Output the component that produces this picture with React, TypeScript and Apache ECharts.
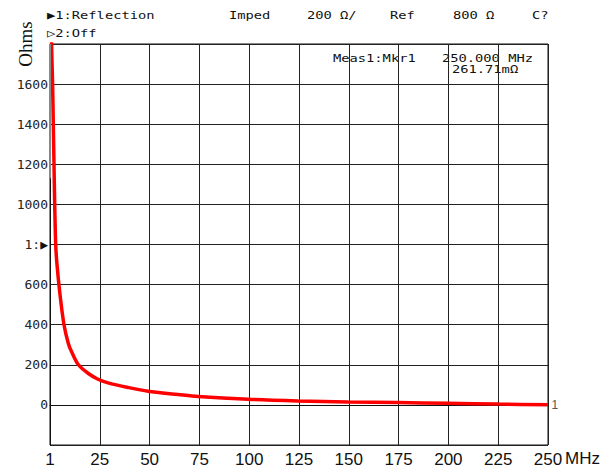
import React, { useEffect, useRef } from "react";
import * as echarts from "echarts";

// Frequency (MHz) and impedance (Ohms)
const freqMHz = [1, 1.4, 1.8, 2.3, 2.65, 3, 3.35, 3.85, 4.5, 6, 8, 10.2, 11.8, 15.2, 20, 25, 30, 40, 50, 65, 75, 100, 125, 150, 175, 200, 225, 250];
const impedanceOhms = [3200, 2300, 1800, 1600, 1400, 1200, 1000, 800, 700, 550, 400, 305, 265, 200, 158, 128, 110, 87, 68, 52, 42, 28, 20, 15, 12, 8, 4, 0.26];

const xTickLabels = ["1", "25", "50", "75", "100", "125", "150", "175", "200", "225", "250"];
const yTickLabels: Record<number, string> = {
  0: "0",
  200: "200",
  400: "400",
  600: "600",
  800: "1:{tri|▶}",
  1000: "1000",
  1200: "1200",
  1400: "1400",
  1600: "1600",
};

const headerTexts = [
  { text: "▶1:Reflection", x: 47, y: 15 },
  { text: "▷2:Off", x: 47, y: 33 },
  { text: "Imped", x: 229, y: 15 },
  { text: "200 Ω/", x: 307, y: 15 },
  { text: "Ref", x: 390, y: 15 },
  { text: "800 Ω", x: 453, y: 15 },
  { text: "C?", x: 532, y: 15 },
  { text: "Meas1:Mkr1", x: 333, y: 58 },
  { text: "250.000 MHz", x: 442, y: 58 },
  { text: "261.71mΩ", x: 452, y: 69 },
];

const MONO = "'DejaVu Sans Mono', 'Liberation Mono', monospace";

export default function App() {
  const ref = useRef<HTMLDivElement>(null);
  useEffect(() => {
    document.body.style.margin = "0";
    if (!ref.current) return;
    const chart = echarts.init(ref.current, undefined, { renderer: "svg" });
    const data = freqMHz.map((f, i) => [f, impedanceOhms[i]]);
    chart.setOption({
      animation: false,
      backgroundColor: "#ffffff",
      grid: {
        left: 50,
        right: 57,
        top: 44,
        bottom: 24,
        show: true,
        borderColor: "#111",
        borderWidth: 1,
        backgroundColor: "transparent",
      },
      xAxis: [
        {
          type: "value",
          min: 0,
          max: 10,
          interval: 1,
          axisLine: { show: true, lineStyle: { color: "#111", width: 1 } },
          axisTick: { show: false },
          splitLine: { show: true, lineStyle: { color: "#222", width: 1 } },
          axisLabel: {
            margin: 6,
            fontFamily: "'Liberation Sans', Arial, sans-serif",
            fontSize: 17,
            color: "#111",
            formatter: (v: number) => xTickLabels[Math.round(v)] ?? "",
          },
        },
        {
          type: "value",
          min: 1,
          max: 250,
          show: false,
        },
      ],
      yAxis: {
        type: "value",
        min: -200,
        max: 1800,
        interval: 200,
        axisLine: { show: true, lineStyle: { color: "#111", width: 1 } },
        axisTick: { show: false },
        splitLine: { show: true, lineStyle: { color: "#222", width: 1 } },
        axisLabel: {
          margin: 2,
          fontFamily: MONO,
          fontSize: 13,
          color: "#222",
          formatter: (v: number) => yTickLabels[v] ?? "",
          rich: {
            tri: { fontSize: 13, color: "#111", fontFamily: MONO },
          },
        },
      },
      series: [
        {
          type: "line",
          xAxisIndex: 1,
          data,
          smooth: 0.3,
          symbol: "none",
          clip: true,
          lineStyle: { color: "#ff0000", width: 3.5 },
          markLine: {
            silent: true,
            symbol: "none",
            label: { show: false },
            lineStyle: { color: "#888", width: 2, type: "solid" },
            data: [[{ coord: [1, 1800] }, { coord: [1, 1130] }]],
          },
          markPoint: {
            symbol: "circle",
            symbolSize: 1,
            itemStyle: { color: "rgba(0,0,0,0)" },
            label: {
              show: true,
              position: "right",
              distance: 3,
              formatter: "1",
              fontFamily: "'Liberation Sans', Arial, sans-serif",
              fontSize: 12,
              color: "#555",
            },
            data: [{ coord: [250, 0.26] }],
          },
        },
      ],
      graphic: [
        ...headerTexts.map((h) => ({
          type: "text",
          x: h.x,
          y: h.y,
          scaleX: 1.25,
          style: {
            text: h.text,
            fontFamily: MONO,
            fontSize: 11,
            fill: "#111",
            align: "left",
            verticalAlign: "middle",
          },
        })),
        {
          type: "text",
          x: 25,
          y: 44,
          rotation: Math.PI / 2,
          style: {
            text: "Ohms",
            fontFamily: "'Liberation Serif', 'Times New Roman', serif",
            fontSize: 19,
            fill: "#111",
            align: "center",
            verticalAlign: "middle",
          },
        },
        {
          type: "text",
          left: 565,
          top: 450,
          style: {
            text: "MHz",
            fontFamily: "'Liberation Sans', Arial, sans-serif",
            fontSize: 17,
            fill: "#111",
          },
        },
      ],
    });
    return () => chart.dispose();
  }, []);
  return <div ref={ref} style={{ width: 605, height: 469 }} />;
}
